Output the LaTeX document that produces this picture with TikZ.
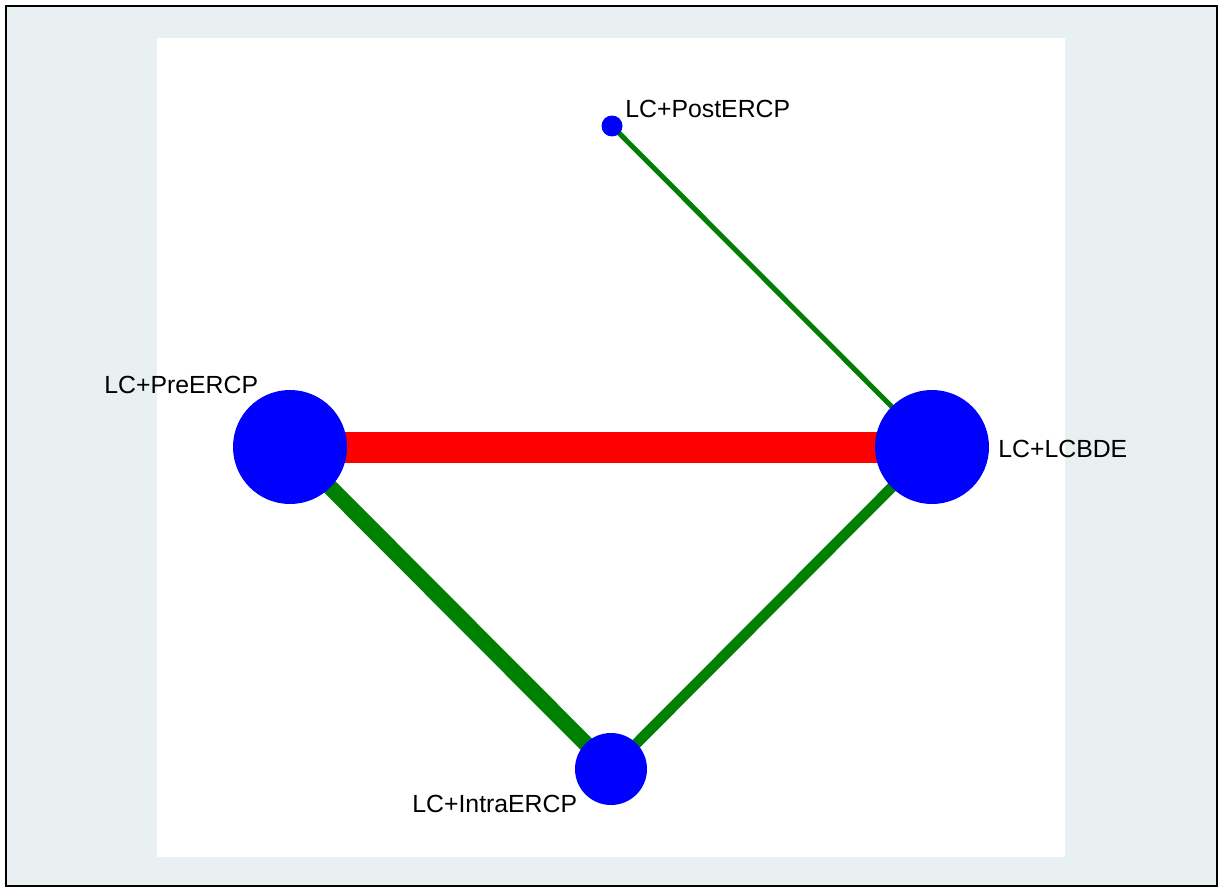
\documentclass[tikz,border=0pt]{standalone}
\usepackage{fontspec}
\setmainfont{Liberation Sans}
\usepackage{xcolor}
\definecolor{panelgrey}{HTML}{E8F0F2}
\definecolor{netgreen}{HTML}{008000}
\definecolor{netblue}{HTML}{0000FF}
\definecolor{netred}{HTML}{FF0000}
\pgfdeclarelayer{back}
\pgfdeclarelayer{mid}
\pgfsetlayers{back,mid,main}

\begin{document}
\begin{tikzpicture}[x=0.5pt, y=-0.5pt,
  trt/.style={circle, fill=netblue, inner sep=0pt},
  lbl/.style={anchor=base west, inner sep=0pt, font=\fontsize{12.4}{15}\selectfont},
  comp/.style={netgreen, line cap=butt}]
  \useasboundingbox (0,0) rectangle (1221,888);
  \begin{pgfonlayer}{back}
    \draw[fill=panelgrey, line width=1pt] (6,6) rectangle (1217,886);
    \fill[white] (157,38) rectangle (1065,857);
  \end{pgfonlayer}
  % treatments
  \node[trt, minimum size=57pt] (pre) at (290,447) {};
  \node[trt, minimum size=57pt] (lcbde) at (932,447) {};
  \node[trt, minimum size=36pt] (intra) at (611,769) {};
  \node[trt, minimum size=10.5pt] (post) at (612,126) {};
  \node[lbl] (preL) at (104,393) {LC+PreERCP};
  \node[lbl] (lcbdeL) at (998,457) {LC+LCBDE};
  \node[lbl] (intraL) at (412,812) {LC+IntraERCP};
  \node[lbl] (postL) at (625,118) {LC+PostERCP};
  % comparisons
  \begin{pgfonlayer}{mid}
    \draw[netred, line width=15.5pt] (pre.center) -- (lcbde.center);
    \draw[comp, line width=8pt] (pre.center) -- (intra.center);
    \draw[comp, line width=5.25pt] (intra.center) -- (lcbde.center);
    \draw[comp, line width=2.5pt] (post.center) -- (lcbde.center);
  \end{pgfonlayer}
\end{tikzpicture}
\end{document}
